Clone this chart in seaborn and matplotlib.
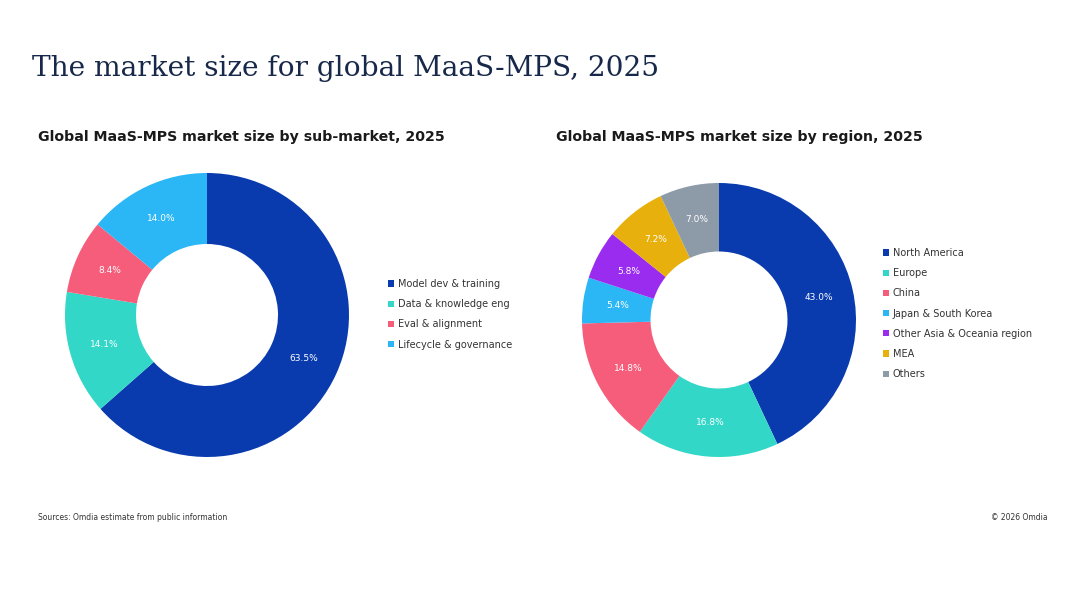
import matplotlib
matplotlib.use("Agg")
import matplotlib.pyplot as plt
import seaborn as sns

# sub-market split
sub_markets = [
    "Model dev & training",
    "Data & knowledge eng",
    "Eval & alignment",
    "Lifecycle & governance",
]
sub_share = [63.5, 14.1, 8.4, 14.0]
sub_colors = ["#0A3BAE", "#33D7C8", "#F65D7B", "#2BB6F6"]

# regional split
regions = [
    "North America",
    "Europe",
    "China",
    "Japan & South Korea",
    "Other Asia & Oceania region",
    "MEA",
    "Others",
]
region_share = [43.0, 16.8, 14.8, 5.4, 5.8, 7.2, 7.0]
region_colors = ["#0A3BAE", "#33D7C8", "#F65D7B", "#2BB6F6", "#9A2CF0", "#E8B00D", "#8D9BA8"]

sns.set_theme(style="white")
plt.rcParams["font.family"] = ["DejaVu Sans"]

W, H = 1080, 608
fig = plt.figure(figsize=(W / 100, H / 100), dpi=100)
fig.patch.set_facecolor("white")


def px_axes(cx, cy, r):
    return fig.add_axes([(cx - r) / W, (H - cy - r) / H, 2 * r / W, 2 * r / H])


def donut(ax, values, colors):
    wedges, _, autotexts = ax.pie(
        values,
        colors=colors,
        startangle=90,
        counterclock=False,
        radius=1,
        autopct="%1.1f%%",
        pctdistance=0.75,
        wedgeprops=dict(width=0.5, edgecolor="none"),
        textprops=dict(color="white", fontsize=6.5),
    )
    ax.set_xlim(-1, 1)
    ax.set_ylim(-1, 1)
    ax.set_aspect("equal")
    ax.axis("off")
    return wedges


ax1 = px_axes(207, 315, 142)
w1 = donut(ax1, sub_share, sub_colors)
ax2 = px_axes(719, 320, 137)
w2 = donut(ax2, region_share, region_colors)

leg_kw = dict(
    frameon=False,
    fontsize=7,
    handlelength=0.6,
    handleheight=0.6,
    handletextpad=0.4,
    labelspacing=1.05,
    borderaxespad=0,
    labelcolor="#333333",
)
fig.legend(w1, sub_markets, loc="upper left",
           bbox_to_anchor=(384 / W, 1 - 275 / H), **leg_kw)
fig.legend(w2, regions, loc="upper left",
           bbox_to_anchor=(879 / W, 1 - 244 / H), **leg_kw)

fig.text(32 / W, 1 - 69 / H, "The market size for global MaaS-MPS, 2025",
         family="DejaVu Serif", fontsize=20.2, color="#17284A", va="center")
fig.text(38 / W, 1 - 137 / H, "Global MaaS-MPS market size by sub-market, 2025",
         fontsize=10.2, fontweight="bold", color="#1A1A1A", va="center")
fig.text(556 / W, 1 - 137 / H, "Global MaaS-MPS market size by region, 2025",
         fontsize=10.2, fontweight="bold", color="#1A1A1A", va="center")
fig.text(38 / W, 1 - 518 / H, "Sources: Omdia estimate from public information",
         fontsize=5.5, color="#333333", va="center")
fig.text(1048 / W, 1 - 518 / H, "\u00a9 2026 Omdia",
         fontsize=5.5, color="#333333", va="center", ha="right")

fig.savefig("out.png", dpi=100, facecolor="white")
